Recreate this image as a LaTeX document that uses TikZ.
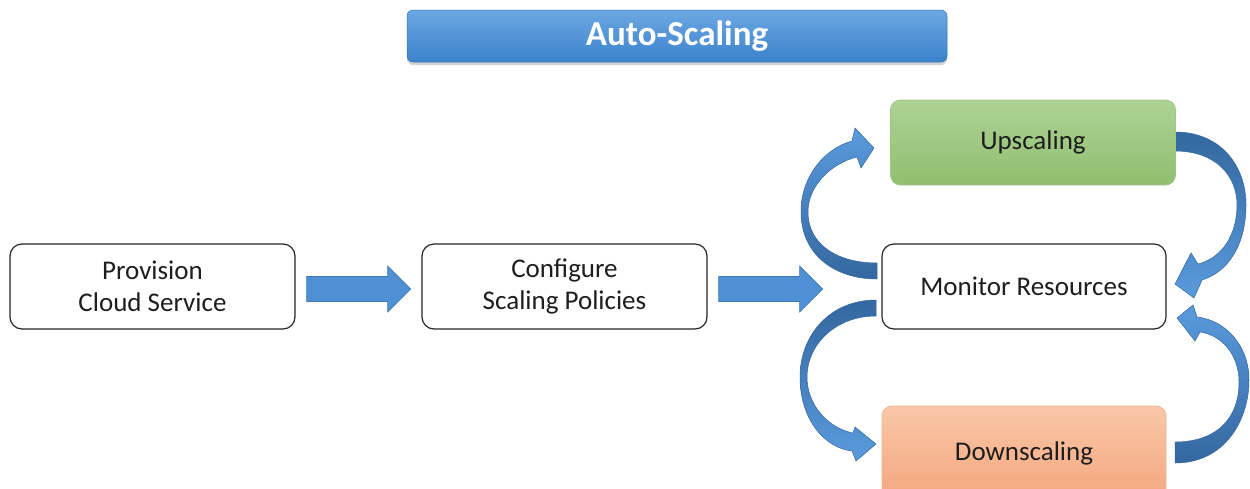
\documentclass[tikz,border=0pt]{standalone}
\usepackage{fontspec}
\setmainfont{Carlito}
\usetikzlibrary{shadows,calc}
\definecolor{arrowblue}{HTML}{4F8FD3}
\definecolor{arrowedge}{HTML}{3F78B8}
\definecolor{ribbonlight}{HTML}{5A9BDD}
\definecolor{ribbondark}{HTML}{34679F}
\definecolor{titletop}{HTML}{6CA8E3}
\definecolor{titlebot}{HTML}{3B82CC}
\definecolor{greentop}{HTML}{AED294}
\definecolor{greenbot}{HTML}{90BF70}
\definecolor{greenedge}{HTML}{A0C687}
\definecolor{orangetop}{HTML}{F9C7A7}
\definecolor{orangebot}{HTML}{F4A47C}
\definecolor{orangeedge}{HTML}{F0B593}
\definecolor{textdark}{HTML}{1E1E1E}
\begin{document}
\begin{tikzpicture}[x=1pt,y=-1pt,
  box/.style={draw=black!85, line width=1.2pt, rounded corners=12pt, fill=white,
    minimum width=285pt, minimum height=85pt, align=center, inner sep=0pt,
    font=\fontsize{27}{32}\selectfont, text=textdark},
  greenbox/.style={box, draw=greenedge, line width=0.8pt, top color=greentop, bottom color=greenbot, rounded corners=10pt},
  orangebox/.style={box, draw=orangeedge, line width=0.8pt, top color=orangetop, bottom color=orangebot, rounded corners=10pt},
  titlebox/.style={rounded corners=6pt, top color=titletop, bottom color=titlebot,
    draw=titlebot!90!black, line width=0.5pt,
    drop shadow={shadow xshift=0pt, shadow yshift=-3pt, opacity=0.35},
    minimum width=540pt, minimum height=52pt, inner sep=0pt,
    text=white, font=\fontsize{35}{40}\selectfont\bfseries},
  fatfill/.style={fill=arrowblue, draw=arrowedge, line width=0.6pt, line join=miter},
  ribbonup/.style={top color=ribbonlight, bottom color=ribbondark, draw=ribbondark, line width=0.5pt},
  ribbondown/.style={top color=ribbondark, bottom color=ribbonlight, draw=ribbondark, line width=0.5pt},
  fatarrow/.pic={\path[fatfill] (0,-12.5) -- (81,-12.5) -- (81,-23) -- (104,0) -- (81,23) -- (81,12.5) -- (0,12.5) -- cycle;}
]
\clip (0,0) rectangle (1250,488);
\fill[white] (0,0) rectangle (1250,488);

% title
\node[titlebox] (title) at (677,36) {Auto-Scaling};

% curved ribbon arrows (drawn before boxes)
% Monitor -> Upscaling
\path[ribbonup] (877,279) .. controls (835,279) and (801,255) .. (801,212)
  .. controls (801,175) and (826,148) .. (852,141)
  -- (855,128) -- (874,148) -- (861,168) -- (857,157)
  .. controls (832,163) and (808,185) .. (808,212)
  .. controls (808,245) and (838,263) .. (877,263) -- cycle;
% Upscaling -> Monitor
\path[ribbondown] (1175,132) .. controls (1220,132) and (1246,165) .. (1246,205)
  .. controls (1246,245) and (1228,272) .. (1202,280)
  -- (1194,298) -- (1175,284) -- (1191,253) -- (1198,264)
  .. controls (1222,258) and (1237,235) .. (1237,205)
  .. controls (1237,175) and (1215,151) .. (1175,151) -- cycle;
% Monitor -> Downscaling
\path[ribbondown] (876,300) .. controls (830,300) and (800,335) .. (800,377)
  .. controls (800,420) and (825,448) .. (852,451)
  -- (856,461) -- (876,444) -- (855,427) -- (853,433)
  .. controls (828,428) and (807,405) .. (807,377)
  .. controls (807,345) and (835,316) .. (876,316) -- cycle;
% Downscaling -> Monitor
\path[ribbonup] (1175,463) .. controls (1225,463) and (1249,420) .. (1249,380)
  .. controls (1249,345) and (1225,320) .. (1197,317)
  -- (1193,305) -- (1177,318) -- (1195,341) -- (1200,332)
  .. controls (1222,335) and (1239,355) .. (1239,382)
  .. controls (1239,420) and (1215,442) .. (1175,442) -- cycle;

% boxes
\node[box] (prov) at (152.5,286.5) {Provision\\Cloud Service};
\node[box] (conf) at (564.5,286.5) {Configure\\Scaling Policies};
\node[box, minimum width=284pt] (mon) at (1024,286.5) {Monitor Resources};
\node[greenbox] (up) at (1033,142.5) {Upscaling};
\node[orangebox, minimum width=284pt, minimum height=100pt] (down) at (1024,456) {\raisebox{10pt}{Downscaling}};

% straight arrows
\path ($(prov.east)+(11,2.5)$) pic{fatarrow};
\path ($(conf.east)+(11,2.5)$) pic{fatarrow};
\end{tikzpicture}
\end{document}
